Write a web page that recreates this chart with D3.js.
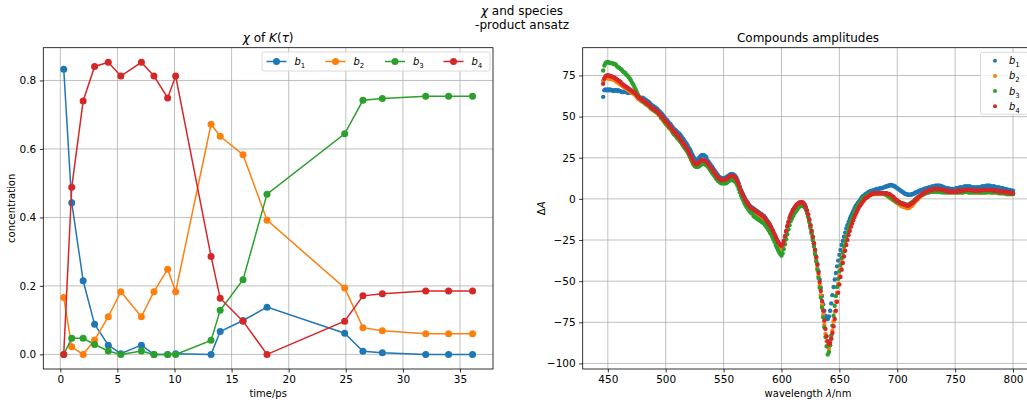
<!DOCTYPE html>
<html>
<head>
<meta charset="utf-8">
<script src="https://cdnjs.cloudflare.com/ajax/libs/d3/7.8.5/d3.min.js"></script>
<style>
  body { margin: 0; background: #fff; }
  text { font-family: "DejaVu Sans", sans-serif; fill: #000; }
  .grid line { stroke: #b0b0b0; stroke-width: 0.8; }
  .axis path, .axis line { stroke: #000; stroke-width: 0.8; }
  .axis text { font-size: 10.5px; }
</style>
</head>
<body>
<div id="chart"></div>
<script>
(function() {
  var width = 1027,
      height = 405;

  // left panel: concentrations over time
  var times = [0.3, 1.0, 2.0, 3.0, 4.2, 5.3, 7.1, 8.2, 9.4, 10.1, 13.2, 14.0, 16.0, 18.1, 24.9, 26.5, 28.2, 32.0, 34.0, 36.1];
  var b1Conc = [0.833, 0.443, 0.215, 0.088, 0.027, 0.002, 0.027, 0.0, 0.0, 0.002, 0.0, 0.067, 0.099, 0.138, 0.062, 0.009, 0.005, 0.0, 0.0, 0.0];
  var b2Conc = [0.166, 0.022, 0.0, 0.042, 0.11, 0.183, 0.11, 0.183, 0.249, 0.183, 0.672, 0.637, 0.583, 0.392, 0.194, 0.078, 0.069, 0.06, 0.06, 0.06];
  var b3Conc = [0.0, 0.047, 0.047, 0.029, 0.01, 0.0, 0.01, 0.0, 0.0, 0.0, 0.041, 0.129, 0.218, 0.468, 0.644, 0.742, 0.747, 0.754, 0.754, 0.754];
  var b4Conc = [0.0, 0.488, 0.74, 0.841, 0.853, 0.813, 0.853, 0.813, 0.749, 0.813, 0.286, 0.164, 0.097, 0.0, 0.097, 0.171, 0.177, 0.185, 0.185, 0.185];

  // right panel: amplitudes vs wavelength (1 nm grid, 446..800)
  var wavelengths = d3.range(446, 801);
  var b1Amp = [
    62, 66, 66.5, 66, 66.5, 66, 66.5, 66, 66, 65.5,
    66, 66, 65.5, 66, 65.5, 65.5, 65, 65, 65, 65.5,
    65, 64.5, 64.5, 64.5, 64.5, 64.5, 64.5, 64.5, 64, 63.5,
    62.5, 62, 61.5, 61, 61.5, 61, 60.5, 60, 59.5, 59,
    58.5, 57.5, 57, 56.5, 56, 55.5, 55, 54.5, 53.5, 53,
    52, 51.5, 50.5, 49.5, 48.5, 48, 47, 46, 45.5, 44.5,
    43.5, 42.5, 42, 41.5, 40.5, 40, 39.5, 38.5, 37.5, 36.5,
    35.5, 34.5, 33.5, 32.5, 31, 30, 28.5, 27, 25.5, 24.5,
    24, 23.5, 24, 25, 26, 26.5, 26.5, 26.5, 26, 25.5,
    23.5, 22.5, 21.5, 20.5, 19.5, 18.5, 17.5, 16.5, 15.5, 14.5,
    13.5, 13, 12.5, 12.5, 12.5, 12.5, 13, 13.5, 14, 14.5,
    15, 15, 15, 14.5, 14, 13, 11.5, 9.5, 7.5, 5.5,
    4, 2.5, 1, -0.5, -1.5, -2.5, -3.5, -4.5, -5, -5.5,
    -6, -6.5, -7, -7.5, -8, -8.5, -9, -9.5, -10, -10.5,
    -11.5, -12.5, -13.5, -14.5, -15.5, -17, -18.5, -20.5, -22, -23.5,
    -25, -26.5, -28, -29.5, -30, -29, -27, -23.5, -20, -17,
    -14.5, -12, -10, -8.5, -7, -6, -5, -4, -3.5, -3,
    -2.5, -2.5, -2.5, -3, -3.5, -5, -7, -9.5, -12.5, -16,
    -19.5, -23, -27, -31, -35, -39.5, -44, -49, -54, -59,
    -64, -68, -71, -72.5, -73, -71.5, -68, -63.5, -58.5, -53.5,
    -49, -45, -41, -37.5, -34, -31, -28, -25.5, -23, -20.5,
    -18, -16, -14, -12, -10.5, -9, -7.5, -6, -4.5, -3.5,
    -2.5, -1.5, -0.5, 0.5, 1.5, 2, 2.5, 3, 3.5, 4,
    4.5, 4.5, 5, 5, 5.5, 5.5, 6, 6, 6, 6.5,
    6.5, 6.5, 7, 7, 7.5, 7.5, 8, 8, 8.5, 8.5,
    8, 8, 7.5, 7, 6.5, 6, 5.5, 5, 4.5, 4,
    3.5, 3, 3, 2.5, 2.5, 2.5, 2.5, 3, 3, 3.5,
    4, 4, 4.5, 5, 5, 5.5, 5.5, 6, 6, 6.5,
    6.5, 7, 7, 7, 7.5, 7.5, 7.5, 8, 8, 8,
    8, 8, 7.5, 7.5, 7, 7, 6.5, 6.5, 6.5, 6,
    6, 6, 6, 6, 6, 6.5, 6.5, 6.5, 7, 7,
    7, 7, 7.5, 7.5, 7.5, 7.5, 7.5, 7.5, 7, 7,
    7, 7, 7, 7, 7, 7, 7, 7.5, 7.5, 7.5,
    7.5, 8, 8, 8, 8, 7.5, 7.5, 7.5, 7.5, 7,
    7, 7, 7, 6.5, 6.5, 6.5, 6, 6, 6, 5.5,
    5.5, 5.5, 5, 5, 5
  ];
  var b2Amp = [
    72, 73, 73.5, 73.5, 73.5, 73, 73, 73, 72.5, 72.5,
    72, 71.5, 71, 70.5, 70, 69.5, 69, 68.5, 68, 67.5,
    67, 66.5, 66, 65.5, 65, 64.5, 64, 63.5, 63, 62,
    61, 60.5, 60, 59.5, 59, 58.5, 58, 57.5, 57, 56.5,
    56, 55, 54.5, 54, 53.5, 53, 52.5, 52, 51, 50.5,
    49, 48.5, 47.5, 46.5, 45.5, 45, 44, 43, 42.5, 41.5,
    40.5, 39.5, 39, 38, 37, 36.5, 35.5, 34.5, 33.5, 32.5,
    31.5, 30.5, 29.5, 28.5, 27, 25.5, 24, 22.5, 21, 20.5,
    20, 20, 20.5, 21.5, 22, 22.5, 22.5, 22.5, 22, 21.5,
    21, 20, 19, 18, 17, 16, 15, 14, 13, 12,
    11.5, 11, 10.5, 10.5, 10.5, 10.5, 11, 11.5, 12, 12.5,
    13, 13, 13, 12.5, 12, 11, 9.5, 8, 6, 4,
    2.5, 1, -0.5, -2, -3, -4.5, -5.5, -6.5, -7, -7.5,
    -8, -8.5, -9, -9.5, -10, -10.5, -11, -11.5, -12, -12.5,
    -13.5, -14.5, -15.5, -16.5, -17.5, -19, -20.5, -22, -23.5, -25,
    -26.5, -28, -29.5, -30.5, -31, -30, -28, -25, -22, -19,
    -16, -13.5, -11.5, -10, -8.5, -7, -6, -5, -4.5, -4,
    -3.5, -3, -3, -3.5, -4.5, -6, -8, -10.5, -13.5, -17,
    -20.5, -24, -28, -32.5, -37, -42, -47, -52.5, -58.5, -64.5,
    -70.5, -76.5, -82, -86.5, -90, -91, -89, -85, -80, -74.5,
    -68.5, -62.5, -57, -51.5, -46.5, -42, -38, -34.5, -31, -28,
    -25, -22, -19.5, -17, -15, -13, -11, -9.5, -8, -6.5,
    -5, -4, -3, -2, -1, 0, 0.5, 1, 1.5, 2,
    2.5, 2.5, 3, 3, 3, 3, 3, 3, 3, 3,
    3, 3, 3, 3, 2.5, 2, 1.5, 1, 0.5, 0,
    -0.5, -1, -1.5, -2, -2.5, -3, -3.5, -4, -4.5, -4.5,
    -5, -5, -5.5, -5.5, -5.5, -5, -4.5, -4, -3, -2,
    -1.5, -0.5, 0, 1, 1.5, 2, 2.5, 3, 3.5, 3.5,
    4, 4, 4.5, 4.5, 4.5, 4.5, 5, 5, 5, 5,
    5, 4.5, 4.5, 4.5, 4.5, 4.5, 4, 4, 4, 4,
    4, 4, 4, 4, 4, 4, 4, 4, 4, 4,
    4, 4, 4.5, 4.5, 4.5, 4, 4, 4, 4, 4,
    4, 4, 4, 4, 4, 4, 4, 4, 4, 4,
    4, 4, 4, 4, 4, 4, 4, 4, 4, 4,
    4, 3.5, 3.5, 3.5, 3.5, 3.5, 3.5, 3.5, 3, 3,
    3, 3, 3, 3, 3
  ];
  var b3Amp = [
    78, 81, 82.5, 83, 83, 83, 82.5, 82.5, 82.5, 82,
    82, 81.5, 80.5, 80, 79.5, 79, 78.5, 77.5, 77, 76.5,
    75.5, 75, 74, 73, 72, 70.5, 69.5, 68, 66.5, 65,
    63.5, 62, 61, 60.5, 59.5, 59, 58.5, 58, 57.5, 57,
    56.5, 55.5, 55, 54.5, 54, 53.5, 53, 52.5, 51.5, 51,
    49.5, 49, 48, 47, 46, 45.5, 44.5, 43.5, 43, 42,
    40.5, 39.5, 39, 38, 37, 36.5, 35.5, 34.5, 33.5, 32.5,
    31.5, 30.5, 29.5, 28.5, 27, 25.5, 24, 22.5, 21, 20,
    19.5, 19.5, 19.5, 20, 20.5, 21, 21.5, 21.5, 21, 20.5,
    20, 19, 18, 17, 16, 15, 14, 13, 12, 11,
    10.5, 10, 9.5, 9.5, 9.5, 9.5, 9.5, 10, 10.5, 11,
    11.5, 11.5, 11.5, 11, 10.5, 9.5, 8, 6, 4, 2,
    0.5, -1, -2.5, -4, -5, -6, -7, -8, -8.5, -9,
    -10.5, -11, -11.5, -12, -12.5, -13, -13.5, -14, -14.5, -15,
    -16, -17, -18, -19, -20.5, -21.5, -23, -24.5, -26, -28,
    -29.5, -31, -32.5, -33.5, -34.5, -33, -30.5, -27.5, -24.5, -21.5,
    -18.5, -16, -13.5, -12, -10.5, -9, -8, -7, -6, -5,
    -4.5, -4, -4, -4.5, -5, -6.5, -8.5, -11, -14, -17.5,
    -21, -25, -29, -33.5, -38, -43, -48, -54, -60, -66,
    -72, -78, -84, -89.5, -94.5, -93, -89, -83, -77, -71,
    -65, -59, -53.5, -48.5, -44, -40, -36, -32.5, -29, -26,
    -23, -20.5, -18, -15.5, -13.5, -11.5, -10, -8.5, -7, -5.5,
    -4, -3, -2, -1, 0, 0.5, 1, 1.5, 2, 2.5,
    3, 3, 3.5, 3.5, 3.5, 3.5, 3.5, 3.5, 3.5, 3.5,
    3.5, 3.5, 3.5, 3, 3, 2.5, 2, 1.5, 1, 0.5,
    0, -0.5, -1, -1.5, -2, -2, -2.5, -2.5, -3, -3,
    -3, -3.5, -3.5, -3.5, -3.5, -3, -2.5, -2, -1.5, -1,
    0, 0.5, 1, 1.5, 2, 2.5, 3, 3, 3.5, 3.5,
    4, 4, 4, 4.5, 4.5, 4.5, 4.5, 4.5, 4.5, 4.5,
    4.5, 4.5, 4, 4, 4, 4, 4, 4, 4, 4,
    4, 4, 4, 4, 4, 4, 4, 4, 4, 4,
    4, 4, 4.5, 4.5, 4.5, 4.5, 4, 4, 4, 4,
    4, 4, 4, 4, 4, 4, 4, 4, 4, 4,
    4, 4, 4.5, 4.5, 4.5, 4, 4, 4, 4, 4,
    4, 4, 3.5, 3.5, 3.5, 3.5, 3.5, 3.5, 3.5, 3,
    3, 3, 3, 3, 3
  ];
  var b4Amp = [
    70, 73, 74.5, 75, 75, 75, 74.5, 74.5, 74, 74,
    73.5, 73, 72.5, 72, 71.5, 71, 70, 69.5, 69, 68.5,
    68, 67.5, 67, 66.5, 66, 65.5, 65, 64.5, 64, 63,
    62, 61.5, 61, 60.5, 60, 59.5, 59, 58.5, 58, 57.5,
    57, 56, 55.5, 55, 54.5, 54, 53.5, 53, 52, 51.5,
    50.5, 50, 49, 48, 47, 46.5, 45.5, 44.5, 44, 43,
    42, 41, 40.5, 39.5, 38.5, 38, 37, 36, 35, 34,
    33, 32, 31, 30, 28.5, 27, 25.5, 24, 22.5, 21.5,
    21, 21, 21.5, 22.5, 23, 23.5, 23.5, 23.5, 23, 22.5,
    22, 21, 20, 19, 18, 17, 16, 15, 14, 13,
    12.5, 12, 11.5, 11.5, 11.5, 11.5, 12, 12.5, 13, 13.5,
    14, 14, 14, 13.5, 13, 12, 10.5, 9, 7, 5,
    3.5, 2, 0.5, -1, -2, -3, -4, -5, -5.5, -6,
    -6.5, -7, -7.5, -8, -8.5, -9, -9.5, -10, -10.5, -11,
    -12, -13, -14, -15, -16, -17, -18.5, -20, -21.5, -23,
    -24.5, -26, -27, -28, -28.5, -27.5, -25.5, -22.5, -19.5, -16.5,
    -14, -11.5, -9.5, -8, -6.5, -5.5, -4.5, -3.5, -3, -2.5,
    -2, -2, -2, -2.5, -3.5, -5, -7, -9.5, -12.5, -16,
    -19.5, -23, -27, -31, -35.5, -40, -45, -50.5, -56, -62,
    -68, -74, -79, -83.5, -86.5, -88, -87.5, -85, -81.5, -77.5,
    -73, -68, -62.5, -57, -52, -47.5, -43, -39, -35, -31.5,
    -28, -25, -22, -19.5, -17, -15, -13, -11, -9.5, -8,
    -6.5, -5, -4, -3, -2, -1, 0, 0.5, 1, 1.5,
    2, 2.5, 3, 3, 3.5, 3.5, 3.5, 3.5, 3.5, 3.5,
    3.5, 3.5, 3.5, 3.5, 3.5, 3.5, 3, 3, 2.5, 2,
    1.5, 1, 0, -0.5, -1, -1.5, -2, -2.5, -3, -3,
    -3.5, -3.5, -4, -4, -4, -3.5, -3, -2.5, -2, -1,
    -0.5, 0, 1, 1.5, 2, 2.5, 3, 3.5, 4, 4.5,
    4.5, 5, 5, 5.5, 5.5, 6, 6, 6, 6, 6,
    6, 6, 5.5, 5.5, 5.5, 5, 5, 5, 4.5, 4.5,
    4.5, 4.5, 4.5, 4.5, 4.5, 4.5, 4.5, 5, 5, 5,
    5, 5, 5.5, 5.5, 5.5, 5.5, 5.5, 5.5, 5.5, 5.5,
    5, 5, 5, 5, 5, 5, 5, 5.5, 5.5, 5.5,
    5.5, 5.5, 5.5, 5.5, 5.5, 5.5, 5.5, 5, 5, 5,
    5, 5, 4.5, 4.5, 4.5, 4.5, 4.5, 4, 4, 4,
    4, 4, 3.5, 3.5, 3.5
  ];

  var seriesNames = ["1", "2", "3", "4"];
  var colors = ["#1f77b4", "#ff7f0e", "#2ca02c", "#d62728"];
  var concSeries = [b1Conc, b2Conc, b3Conc, b4Conc];
  var ampSeries = [b1Amp, b2Amp, b3Amp, b4Amp];

  var leftBox = {x0: 43.3, x1: 493, y0: 47.7, y1: 369},
      rightBox = {x0: 582.7, x1: 1033.5, y0: 47.7, y1: 369};

  var svg = d3.select("#chart")
    .append("svg")
    .attr("width", width)
    .attr("height", height);

  // matplotlib style 5% padding
  function padded(ext) {
    var p = (ext[1] - ext[0]) * 0.05;
    return [ext[0] - p, ext[1] + p];
  }

  function bLabel(sel, idx) {
    sel.append("tspan").attr("font-style", "italic").text("b");
    sel.append("tspan").attr("font-size", "0.7em").attr("dy", 3).text(seriesNames[idx]);
  }

  function drawFrame(g, box, x, y, xTicks, yTicks, yFmt) {
    var grid = g.append("g").attr("class", "grid");
    grid.selectAll(".gx").data(xTicks).enter().append("line")
      .attr("x1", x).attr("x2", x)
      .attr("y1", box.y0).attr("y2", box.y1);
    grid.selectAll(".gy").data(yTicks).enter().append("line")
      .attr("x1", box.x0).attr("x2", box.x1)
      .attr("y1", y).attr("y2", y);

    g.append("g")
      .attr("class", "axis")
      .attr("transform", "translate(0," + box.y1 + ")")
      .call(d3.axisBottom(x).tickValues(xTicks).tickSize(3.5).tickPadding(3.5).tickSizeOuter(0));
    g.append("g")
      .attr("class", "axis")
      .attr("transform", "translate(" + box.x0 + ",0)")
      .call(d3.axisLeft(y).tickValues(yTicks).tickFormat(yFmt).tickSize(3.5).tickPadding(3.5).tickSizeOuter(0));
    g.selectAll(".axis .domain").remove();
  }

  function drawSpines(g, box) {
    g.append("rect")
      .attr("x", box.x0).attr("y", box.y0)
      .attr("width", box.x1 - box.x0).attr("height", box.y1 - box.y0)
      .attr("fill", "none").attr("stroke", "#000").attr("stroke-width", 0.8);
  }

  // ---------- left panel ----------
  var xL = d3.scaleLinear().domain(padded(d3.extent(times))).range([leftBox.x0, leftBox.x1]);
  var allConc = d3.merge(concSeries);
  var yL = d3.scaleLinear().domain(padded(d3.extent(allConc))).range([leftBox.y1, leftBox.y0]);

  var left = svg.append("g");
  drawFrame(left, leftBox, xL, yL, d3.range(0, 36, 5), [0, 0.2, 0.4, 0.6, 0.8], d3.format(".1f"));

  var line = d3.line()
    .x(function(d, i) { return xL(times[i]); })
    .y(function(d) { return yL(d); });

  concSeries.forEach(function(vals, k) {
    var s = left.append("g");
    s.append("path")
      .attr("d", line(vals))
      .attr("fill", "none")
      .attr("stroke", colors[k])
      .attr("stroke-width", 1.5);
    s.selectAll("circle")
      .data(vals)
      .enter()
      .append("circle")
      .attr("cx", function(d, i) { return xL(times[i]); })
      .attr("cy", function(d) { return yL(d); })
      .attr("r", 3.5)
      .attr("fill", colors[k]);
  });
  drawSpines(left, leftBox);

  left.append("text")
    .attr("x", (leftBox.x0 + leftBox.x1) / 2).attr("y", 397)
    .attr("text-anchor", "middle").attr("font-size", "10px")
    .text("time/ps");
  left.append("text")
    .attr("transform", "translate(15," + (leftBox.y0 + leftBox.y1) / 2 + ") rotate(-90)")
    .attr("text-anchor", "middle").attr("font-size", "10px")
    .text("concentration");

  var tL = left.append("text")
    .attr("x", (leftBox.x0 + leftBox.x1) / 2).attr("y", 42)
    .attr("text-anchor", "middle").attr("font-size", "12px");
  tL.append("tspan").attr("font-style", "italic").text("χ");
  tL.append("tspan").text(" of ");
  tL.append("tspan").attr("font-style", "italic").text("K");
  tL.append("tspan").text("(");
  tL.append("tspan").attr("font-style", "italic").text("τ");
  tL.append("tspan").text(")");

  // legend (horizontal)
  var legL = left.append("g");
  legL.append("rect")
    .attr("x", 262).attr("y", 52).attr("width", 228).attr("height", 19)
    .attr("rx", 2).attr("fill", "#fff").attr("fill-opacity", 0.8)
    .attr("stroke", "#d0d0d0").attr("stroke-width", 0.8);
  var legX = [266.5, 325.5, 385, 443.5];
  concSeries.forEach(function(vals, k) {
    var e = legL.append("g").attr("transform", "translate(" + legX[k] + ",61.5)");
    e.append("line").attr("x1", 0).attr("x2", 20)
      .attr("stroke", colors[k]).attr("stroke-width", 1.5);
    e.append("circle").attr("cx", 10).attr("r", 3.5).attr("fill", colors[k]);
    var t = e.append("text").attr("x", 28).attr("y", 3.5).attr("font-size", "10px");
    bLabel(t, k);
  });

  // ---------- right panel ----------
  var xR = d3.scaleLinear().domain(padded(d3.extent(wavelengths))).range([rightBox.x0, rightBox.x1]);
  var allAmp = d3.merge(ampSeries);
  var yR = d3.scaleLinear().domain(padded(d3.extent(allAmp))).range([rightBox.y1, rightBox.y0]);

  var right = svg.append("g");
  drawFrame(right, rightBox, xR, yR, d3.range(450, 801, 50), d3.range(-100, 76, 25), d3.format("d"));

  ampSeries.forEach(function(vals, k) {
    right.append("g")
      .selectAll("circle")
      .data(vals)
      .enter()
      .append("circle")
      .attr("cx", function(d, i) { return xR(wavelengths[i]); })
      .attr("cy", function(d) { return yR(d); })
      .attr("r", 2.2)
      .attr("fill", colors[k]);
  });
  drawSpines(right, rightBox);

  var xlR = right.append("text")
    .attr("x", 808).attr("y", 397)
    .attr("text-anchor", "middle").attr("font-size", "10px");
  xlR.append("tspan").text("wavelength ");
  xlR.append("tspan").attr("font-style", "italic").text("λ");
  xlR.append("tspan").text("/nm");

  var ylR = right.append("text")
    .attr("transform", "translate(544.5," + (rightBox.y0 + rightBox.y1) / 2 + ") rotate(-90)")
    .attr("text-anchor", "middle").attr("font-size", "10px");
  ylR.append("tspan").text("Δ");
  ylR.append("tspan").attr("font-style", "italic").text("A");

  right.append("text")
    .attr("x", 808).attr("y", 42)
    .attr("text-anchor", "middle").attr("font-size", "12px")
    .text("Compounds amplitudes");

  var legR = right.append("g");
  legR.append("rect")
    .attr("x", 980.5).attr("y", 52.3).attr("width", 60).attr("height", 62)
    .attr("rx", 2).attr("fill", "#fff").attr("fill-opacity", 0.8)
    .attr("stroke", "#d0d0d0").attr("stroke-width", 0.8);
  ampSeries.forEach(function(vals, k) {
    var e = legR.append("g").attr("transform", "translate(995," + (60.7 + k * 15.2) + ")");
    e.append("circle").attr("r", 2).attr("fill", colors[k]);
    var t = e.append("text").attr("x", 14).attr("y", 3.5).attr("font-size", "10px");
    bLabel(t, k);
  });

  // ---------- figure title ----------
  var sup = svg.append("text")
    .attr("x", 522).attr("y", 15)
    .attr("text-anchor", "middle").attr("font-size", "12px");
  sup.append("tspan").attr("font-style", "italic").text("χ");
  sup.append("tspan").text(" and species");
  svg.append("text")
    .attr("x", 522).attr("y", 29)
    .attr("text-anchor", "middle").attr("font-size", "12px")
    .text("-product ansatz");
})();
</script>
</body>
</html>
